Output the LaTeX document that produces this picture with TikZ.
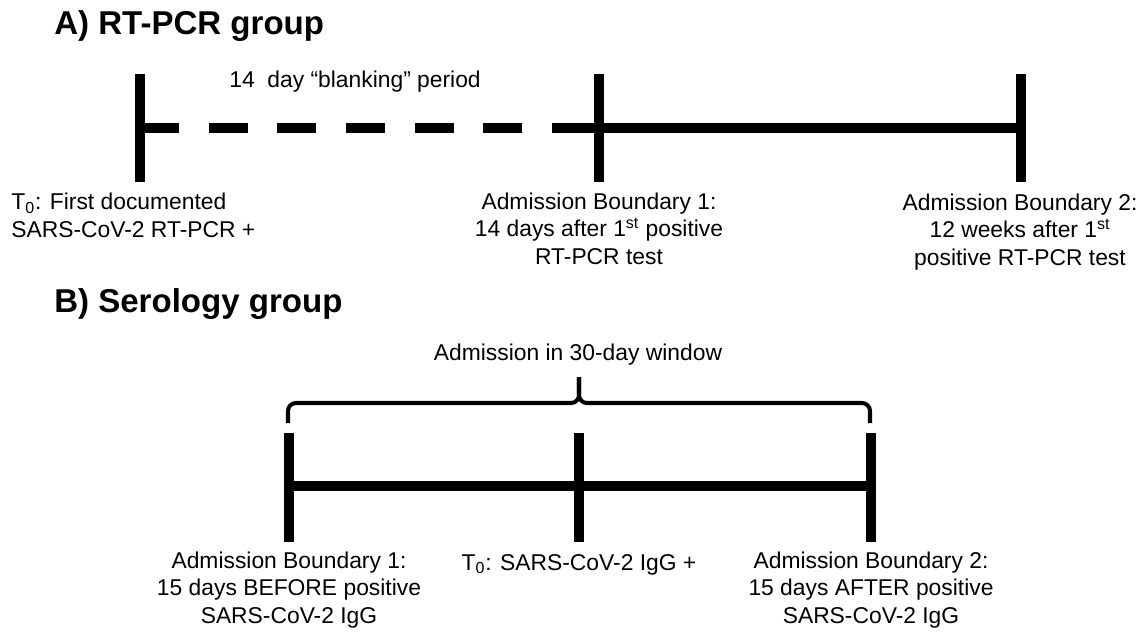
\documentclass[tikz,border=0pt]{standalone}
\usepackage{fontspec}
\setmainfont{Liberation Sans}
\begin{document}
\begin{tikzpicture}[x=0.02cm, y=-0.02cm,
    thickline/.style={line width=5.7pt},
    dashline/.style={line width=5.7pt, dash pattern=on 22.1pt off 17pt},
    bracket/.style={line width=2.3pt, rounded corners=4.5pt},
    lbl/.style={font=\fontsize{13}{15.6}\selectfont, align=center,
                inner sep=0pt, anchor=base},
    ttl/.style={font=\fontsize{18.8}{22}\selectfont\bfseries,
                inner sep=0pt, anchor=base west}]
    \useasboundingbox (0,0) rectangle (1144,633);
    % A) RT-PCR group
    \node[ttl] (ttlA) at (54,34) {A) RT-PCR group};
    \coordinate (a0) at (140,128);
    \coordinate (a1) at (599,128);
    \coordinate (a2) at (1021,128);
    \draw[dashline] (a0) -- (a1);
    \draw[thickline] (a1) ++(-10,0) -- (a2);
    \foreach \p in {a0,a1,a2}
      \draw[thickline] (\p) ++(0,-54) -- ++(0,108);
    \node[lbl, anchor=base west] (blank) at (229,87)
          {14~~day “blanking” period};
    \node[lbl, anchor=base west, align=left] (t0A) at (11,237)
          {T\textsubscript{0}: First documented\\SARS-CoV-2 RT-PCR +};
    \node[lbl] (bnd1A) at (599,264)
          {Admission Boundary 1:\\14 days after 1\textsuperscript{st} positive\\RT-PCR test};
    \node[lbl] (bnd2A) at (1020,265)
          {Admission Boundary 2:\\12 weeks after 1\textsuperscript{st}\\positive RT-PCR test};
    % B) Serology group
    \node[ttl] (ttlB) at (54,312) {B) Serology group};
    \coordinate (b0) at (289,486);
    \coordinate (b1) at (579,486);
    \coordinate (b2) at (871,486);
    \draw[thickline] (b0) -- (b2);
    \foreach \p in {b0,b1,b2}
      \draw[thickline] (\p) ++(0,-53) -- ++(0,109);
    \coordinate (tip) at (579,377);
    \draw[bracket] (288,423) |- (579,403) -- (tip);
    \draw[bracket] (870,423) |- (579,403) -- (tip);
    \node[lbl] (window) at (578,360) {Admission in 30-day window};
    \node[lbl] (bnd1B) at (289,623)
          {Admission Boundary 1:\\15 days BEFORE positive\\SARS-CoV-2 IgG};
    \node[lbl] (t0B) at (579,570) {T\textsubscript{0}: SARS-CoV-2 IgG +};
    \node[lbl] (bnd2B) at (871,623)
          {Admission Boundary 2:\\15 days AFTER positive\\SARS-CoV-2 IgG};
\end{tikzpicture}
\end{document}
